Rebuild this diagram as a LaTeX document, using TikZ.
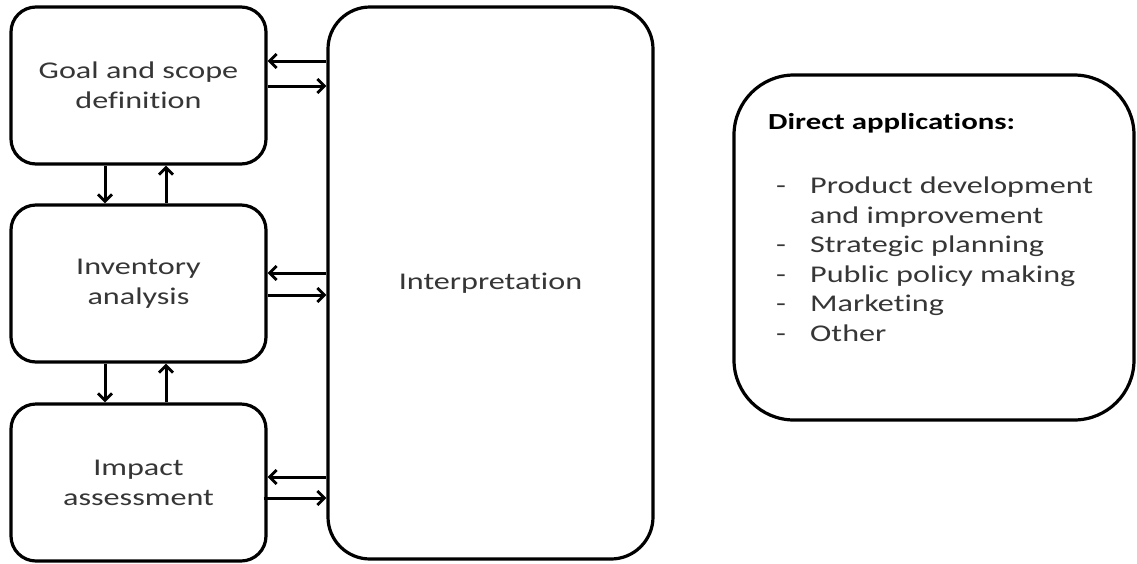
\documentclass[tikz,border=0pt]{standalone}
\usepackage{fontspec}
\setmainfont{Carlito}[FakeStretch=1.34,Ligatures=NoCommon]
\usetikzlibrary{arrows.meta,calc}
\definecolor{txt}{HTML}{363636}
\tikzset{
  box/.style={draw=black, line width=3.2pt, rounded corners=25pt, minimum width=255pt, minimum height=157pt,
    align=center, text=txt, font=\fontsize{24}{30}\selectfont, inner sep=0pt},
  bigbox/.style={draw=black, line width=3.2pt, rounded corners=42pt, minimum width=325pt, minimum height=552pt,
    text=txt, font=\fontsize{24}{30}\selectfont, inner sep=0pt},
  appbox/.style={draw=black, line width=3.2pt, rounded corners=60pt, minimum width=400pt, minimum height=345pt, inner sep=0pt},
  arr/.style={line width=3pt, -{Straight Barb[length=7pt,width=14pt,line width=2.8pt]}},
}
\begin{document}
\begin{tikzpicture}[x=1pt,y=-1pt]
\path[fill=white,use as bounding box] (0,0) rectangle (1137,563);
\node[box] (G) at (138.5,85.5) {Goal and scope\\definition};
\node[box] (V) at (138.5,283.5) {Inventory\\analysis};
\node[box] (M) at (138.5,482.5) {Impact\\assessment};
\node[bigbox] (I) at (490.5,283) {Interpretation};
\node[appbox] (A) at (934,247.5) {};
\node[anchor=west, font=\fontsize{23}{29}\selectfont\bfseries, text=black, inner sep=0pt] (H) at (768,123) {Direct applications:};
\node[anchor=north west, align=left, text=txt, font=\fontsize{24}{29.5}\selectfont, inner sep=0pt] (L) at (776,177)
  {\makebox[34pt][l]{-}Product development\\
   \makebox[34pt][l]{}and improvement\\
   \makebox[34pt][l]{-}Strategic planning\\
   \makebox[34pt][l]{-}Public policy making\\
   \makebox[34pt][l]{-}Marketing\\
   \makebox[34pt][l]{-}Other};
% arrow anchor points
\coordinate (g1) at ($(I.west)+(0,-222)$);
\coordinate (g2) at ($(G.east)+(0,0.5)$);
\coordinate (v1) at ($(I.west)+(0,-10)$);
\coordinate (v2) at ($(V.east)+(0,11.5)$);
\coordinate (m1) at ($(I.west)+(0,194)$);
\coordinate (m2) at ($(M.east)+(-4,15.5)$);
\coordinate (d1) at ($(G.south)+(-33.5,0)$);
\coordinate (u1) at ($(V.north)+(27.5,0)$);
\coordinate (d2) at ($(V.south)+(-33.5,0)$);
\coordinate (u2) at ($(M.north)+(27.5,0)$);
% horizontal arrows
\draw[arr] (g1) -- (g1 -| G.east);
\draw[arr] (g2) -- (g2 -| I.west);
\draw[arr] (v1) -- (v1 -| V.east);
\draw[arr] (v2) -- (v2 -| I.west);
\draw[arr] (m1) -- (m1 -| M.east);
\draw[arr] (m2) -- (m2 -| I.west);
% vertical arrows
\draw[arr] (d1) -- (d1 |- V.north);
\draw[arr] (u1) -- (u1 |- G.south);
\draw[arr] (d2) -- (d2 |- M.north);
\draw[arr] (u2) -- (u2 |- V.south);
\end{tikzpicture}
\end{document}
